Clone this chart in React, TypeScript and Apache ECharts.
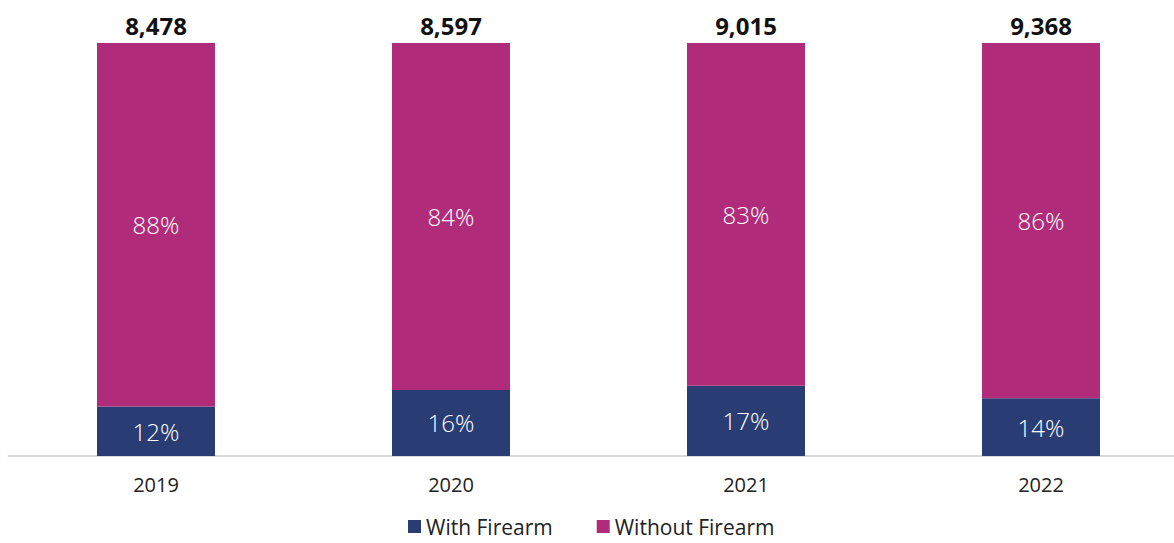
import React, { useEffect, useRef } from "react";
import * as echarts from "echarts";

const years = ["2019", "2020", "2021", "2022"];
const withFirearm = [12, 16, 17, 14];
const withoutFirearm = [88, 84, 83, 86];
const totals = ["8,478", "8,597", "9,015", "9,368"];

const FONT = "'Open Sans', 'Noto Sans', sans-serif";

export default function App() {
  const ref = useRef<HTMLDivElement>(null);
  useEffect(() => {
    const chart = echarts.init(ref.current!, null, { renderer: "svg" });
    chart.setOption({
      animation: false,
      textStyle: { fontFamily: FONT },
      grid: { left: 8.5, width: 1180, top: 43, bottom: 87, outerBoundsMode: "none", containLabel: false },
      legend: {
        top: 516,
        left: 408,
        icon: "rect",
        itemWidth: 13,
        itemHeight: 13,
        itemGap: 44,
        padding: 0,
        textStyle: { fontSize: 21, color: "#222", fontFamily: FONT },
        data: ["With Firearm", "Without Firearm"],
      },
      xAxis: {
        type: "category",
        data: years,
        axisLine: { lineStyle: { color: "#d9d9d9", width: 2 } },
        axisTick: { show: false },
        axisLabel: { fontSize: 20, color: "#222", margin: 18, fontFamily: FONT },
      },
      yAxis: { type: "value", min: 0, max: 100, show: false, splitLine: { show: false } },
      series: [
        {
          name: "With Firearm",
          type: "bar",
          stack: "a",
          barWidth: 118,
          data: withFirearm,
          itemStyle: { color: "#293d74" },
          label: {
            show: true,
            position: "inside",
            color: "#ffffff",
            fontSize: 24,
            fontWeight: 300,
            fontFamily: FONT,
            formatter: (p: any) => p.value + "%",
          },
        },
        {
          name: "Without Firearm",
          type: "bar",
          stack: "a",
          barWidth: 118,
          data: withoutFirearm,
          itemStyle: { color: "#b02c7a" },
          label: {
            show: true,
            position: "inside",
            color: "#ffffff",
            fontSize: 24,
            fontWeight: 300,
            fontFamily: FONT,
            formatter: (p: any) => p.value + "%",
          },
        },
        {
          name: "total",
          type: "bar",
          stack: "a",
          barWidth: 118,
          data: totals.map(() => 0),
          itemStyle: { color: "transparent" },
          label: {
            show: true,
            position: "top",
            distance: 6,
            color: "#111",
            fontSize: 24,
            fontWeight: "bold",
            fontFamily: FONT,
            formatter: (p: any) => totals[p.dataIndex],
          },
        },
      ],
    });
    return () => chart.dispose();
  }, []);
  return <div ref={ref} style={{ width: 1174, height: 543, position: "absolute", left: 0, top: 0 }} />;
}
